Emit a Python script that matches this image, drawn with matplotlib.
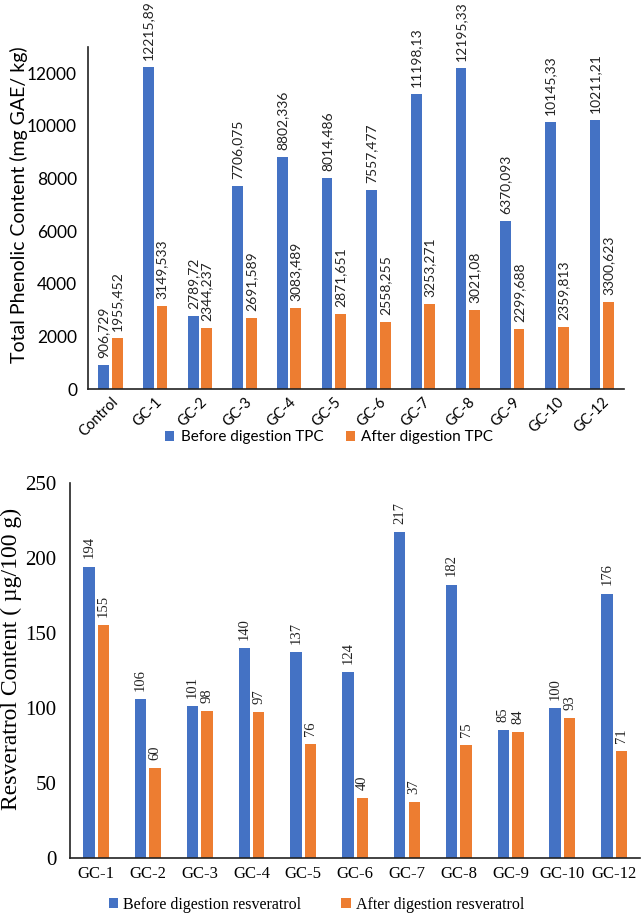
import matplotlib
matplotlib.use("Agg")
import matplotlib.pyplot as plt
import numpy as np

# Total phenolic content (mg GAE/ kg)
tpc_groups = ["Control", "GC-1", "GC-2", "GC-3", "GC-4", "GC-5", "GC-6",
              "GC-7", "GC-8", "GC-9", "GC-10", "GC-12"]
tpc_before = [906.729, 12215.89, 2789.72, 7706.075, 8802.336, 8014.486,
              7557.477, 11198.13, 12195.33, 6370.093, 10145.33, 10211.21]
tpc_after = [1955.452, 3149.533, 2344.237, 2691.589, 3083.489, 2871.651,
             2558.255, 3253.271, 3021.08, 2299.688, 2359.813, 3300.623]

# Resveratrol content (ug/100 g)
res_groups = ["GC-1", "GC-2", "GC-3", "GC-4", "GC-5", "GC-6", "GC-7",
              "GC-8", "GC-9", "GC-10", "GC-12"]
res_before = [194, 106, 101, 140, 137, 124, 217, 182, 85, 100, 176]
res_after = [155, 60, 98, 97, 76, 40, 37, 75, 84, 93, 71]

BLUE = "#4472C4"
ORANGE = "#ED7D31"
SANS = "Lato"
SERIF = "Liberation Serif"

fig = plt.figure(figsize=(6.44, 9.16), dpi=100)

# ---------------- top chart ----------------
ax1 = fig.add_axes([0.137, 0.575, 0.832, 0.374])
x = np.arange(len(tpc_groups))
off = 0.15
w = 0.24
b1 = ax1.bar(x - off, tpc_before, w, color=BLUE, label="Before digestion TPC")
b2 = ax1.bar(x + off, tpc_after, w, color=ORANGE, label="After digestion TPC")
for bars, vals in ((b1, tpc_before), (b2, tpc_after)):
    for r, v in zip(bars, vals):
        ax1.annotate(str(v).replace(".", ","),
                     (r.get_x() + r.get_width() / 2, r.get_height()),
                     xytext=(0, 5), textcoords="offset points",
                     rotation=90, ha="center", va="bottom",
                     fontsize=10, family=SANS, color="#222222",
                     annotation_clip=False)
ax1.set_xlim(-0.5, len(tpc_groups) - 0.5)
ax1.set_ylim(0, 13000)
ax1.set_yticks(range(0, 13000, 2000))
ax1.set_yticklabels([str(t) for t in range(0, 13000, 2000)],
                    family=SANS, fontsize=12.5)
ax1.set_xticks(x)
ax1.set_xticklabels(tpc_groups, rotation=45, ha="right", va="top",
                    rotation_mode="anchor", family=SANS, fontsize=10.5)
ax1.tick_params(length=0)
ax1.tick_params(axis="y", pad=8)
ax1.tick_params(axis="x", pad=4)
for s in ("top", "right"):
    ax1.spines[s].set_visible(False)
for s in ("left", "bottom"):
    ax1.spines[s].set_color("#222222")
    ax1.spines[s].set_linewidth(1.2)
ax1.set_ylabel("Total Phenolic Content (mg GAE/ kg)", family=SANS,
               fontsize=14)
ax1.yaxis.set_label_coords(-0.112, 0.54)
ax1.legend(loc="center", bbox_to_anchor=(0.45, -0.14), ncol=2,
           frameon=False, prop={"family": SANS, "size": 11},
           handlelength=0.6, handleheight=0.6, handletextpad=0.4,
           columnspacing=1.5)

# ---------------- bottom chart ----------------
ax2 = fig.add_axes([0.109, 0.0633, 0.885, 0.4097])
x2 = np.arange(len(res_groups))
off2 = 0.14
w2 = 0.22
c1 = ax2.bar(x2 - off2, res_before, w2, color=BLUE,
             label="Before digestion resveratrol")
c2 = ax2.bar(x2 + off2, res_after, w2, color=ORANGE,
             label="After digestion resveratrol")
for bars, vals in ((c1, res_before), (c2, res_after)):
    for r, v in zip(bars, vals):
        ax2.annotate(str(v),
                     (r.get_x() + r.get_width() / 2, r.get_height()),
                     xytext=(0, 6), textcoords="offset points",
                     rotation=90, ha="center", va="bottom",
                     fontsize=10.5, family=SERIF, color="#222222")
ax2.set_xlim(-0.5, len(res_groups) - 0.5)
ax2.set_ylim(0, 250)
ax2.set_yticks(range(0, 251, 50))
ax2.set_yticklabels([str(t) for t in range(0, 251, 50)],
                    family=SERIF, fontsize=15)
ax2.set_xticks(x2)
ax2.set_xticklabels(res_groups, family=SERIF, fontsize=12)
ax2.tick_params(length=0)
ax2.tick_params(axis="y", pad=10)
ax2.tick_params(axis="x", pad=6)
for s in ("top", "right"):
    ax2.spines[s].set_visible(False)
for s in ("left", "bottom"):
    ax2.spines[s].set_color("#222222")
    ax2.spines[s].set_linewidth(1.2)
ax2.set_ylabel("Resveratrol Content ( \u00b5g/100 g)", family=SERIF,
               fontsize=17)
ax2.yaxis.set_label_coords(-0.085, 0.53)
ax2.legend(loc="center", bbox_to_anchor=(0.432, -0.125), ncol=2,
           frameon=False, prop={"family": SERIF, "size": 11.5},
           handlelength=0.6, handleheight=0.6, handletextpad=0.3,
           columnspacing=2.5)

fig.savefig("out.png", dpi=100)
